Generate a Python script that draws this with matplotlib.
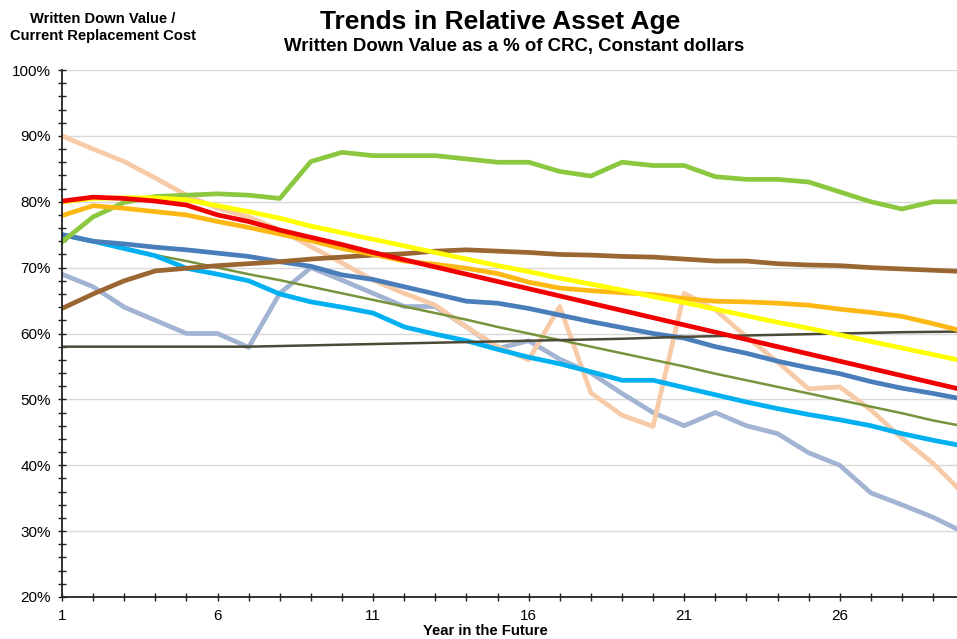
import numpy as np
import matplotlib.pyplot as plt
from matplotlib.ticker import MultipleLocator

plt.rcParams['font.family'] = ['Liberation Sans', 'DejaVu Sans']

years = np.arange(1, 31)

# written down value as % of CRC, one list per asset class
green = [73.9, 77.7, 79.9, 80.8, 81.0, 81.2, 81.0, 80.5, 86.1, 87.5, 87.0, 87.0, 87.0, 86.5, 86.0,
         86.0, 84.6, 83.9, 86.0, 85.5, 85.5, 83.8, 83.4, 83.4, 83.0, 81.5, 80.0, 78.9, 80.0, 80.0]
peach = [90.0, 88.0, 86.1, 83.6, 81.0, 79.0, 77.7, 75.7, 73.2, 70.7, 68.1, 66.1, 64.3, 61.0, 58.0,
         56.0, 64.1, 51.0, 47.6, 45.9, 66.1, 63.6, 59.5, 55.7, 51.6, 51.9, 48.4, 44.1, 40.3, 35.6]
red = [80.1, 80.7, 80.5, 80.1, 79.5, 78.0, 77.0, 75.7, 74.6, 73.5, 72.3, 71.2, 70.1, 69.0, 67.9,
       66.8, 65.7, 64.6, 63.5, 62.4, 61.3, 60.2, 59.1, 58.0, 56.9, 55.8, 54.7, 53.6, 52.5, 51.4]
yellow = [80.0, 80.5, 80.6, 80.6, 80.3, 79.4, 78.5, 77.5, 76.3, 75.3, 74.3, 73.3, 72.3, 71.3, 70.3,
          69.4, 68.4, 67.5, 66.6, 65.6, 64.7, 63.7, 62.7, 61.7, 60.8, 59.8, 58.8, 57.8, 56.8, 55.8]
orange = [77.9, 79.4, 79.0, 78.5, 78.0, 77.0, 76.1, 75.1, 74.1, 72.9, 72.0, 71.0, 70.5, 69.9, 69.1,
          67.8, 66.9, 66.5, 66.2, 65.9, 65.3, 64.9, 64.8, 64.6, 64.3, 63.7, 63.2, 62.6, 61.5, 60.3]
brown = [63.8, 66.0, 68.0, 69.5, 69.9, 70.3, 70.6, 70.9, 71.3, 71.6, 71.9, 72.1, 72.5, 72.7, 72.5,
         72.3, 72.0, 71.9, 71.7, 71.6, 71.3, 71.0, 71.0, 70.6, 70.4, 70.3, 70.0, 69.8, 69.6, 69.4]
blue = [75.0, 74.0, 73.6, 73.1, 72.7, 72.2, 71.7, 70.9, 70.2, 68.9, 68.2, 67.1, 66.0, 64.9, 64.6,
        63.8, 62.8, 61.8, 60.9, 60.0, 59.3, 58.0, 57.0, 55.8, 54.8, 53.9, 52.7, 51.7, 50.9, 50.0]
cyan = [75.0, 74.0, 72.9, 71.8, 69.9, 69.0, 68.0, 66.0, 64.8, 64.0, 63.1, 61.0, 59.9, 58.9, 57.6,
        56.4, 55.4, 54.2, 52.9, 52.9, 51.8, 50.7, 49.6, 48.6, 47.7, 46.9, 46.0, 44.8, 43.8, 42.9]
olive = [75.0, 74.0, 73.0, 71.9, 71.0, 70.0, 69.0, 68.1, 67.1, 66.1, 65.1, 64.1, 63.1, 62.1, 61.0,
         60.0, 59.0, 58.0, 57.0, 56.0, 55.0, 53.9, 52.9, 51.9, 50.9, 49.9, 48.9, 47.9, 46.8, 45.9]
greyblue = [69.0, 67.1, 64.0, 62.0, 60.0, 60.0, 57.9, 66.1, 70.0, 68.1, 66.1, 64.1, 64.1, 61.0, 57.7,
            58.9, 56.1, 54.0, 50.9, 48.0, 46.0, 48.0, 46.0, 44.8, 41.9, 40.0, 35.8, 34.0, 32.1, 29.8]
dark = [58.0, 58.0, 58.0, 58.0, 58.0, 58.0, 58.0, 58.1, 58.2, 58.3, 58.4, 58.5, 58.6, 58.7, 58.8,
        58.9, 59.0, 59.1, 59.2, 59.35, 59.5, 59.6, 59.7, 59.8, 59.9, 60.0, 60.1, 60.2, 60.25, 60.3]

fig = plt.figure(figsize=(9.57, 6.39), dpi=100)
ax = fig.add_axes([62 / 957, 1 - 597 / 639, 895 / 957, 527 / 639])

lines = [
    (greyblue, '#A3B4D2', 3.4),
    (peach, '#F8CBA8', 3.4),
    (olive, '#77933C', 1.8),
    (cyan, '#00B0F0', 3.4),
    (blue, '#4A7EBB', 3.4),
    (dark, '#4A4A36', 1.8),
    (brown, '#9A6631', 3.4),
    (green, '#8CC83F', 3.4),
    (orange, '#FDB813', 3.4),
    (yellow, '#FFFF00', 3.4),
    (red, '#F00000', 3.4),
]
for vals, color, lw in lines:
    ax.plot(years, vals, color=color, lw=lw)

ax.set_xlim(1, 29.77)
ax.set_ylim(20, 100)

ax.set_yticks(range(20, 101, 10))
ax.set_yticklabels([f'{v}%' for v in range(20, 101, 10)])
ax.yaxis.set_minor_locator(MultipleLocator(2))
ax.set_xticks(years[:29])
ax.set_xticklabels([str(y) if (y - 1) % 5 == 0 else '' for y in years[:29]])

ax.grid(axis='y', color='#D9D9D9', lw=1)
ax.set_axisbelow(True)
for s in ['top', 'right']:
    ax.spines[s].set_visible(False)
for s in ['left', 'bottom']:
    ax.spines[s].set_color('#222222')
    ax.spines[s].set_linewidth(1.3)

ax.tick_params(which='both', direction='inout', length=6, width=1, color='#222222')
ax.tick_params(axis='y', labelsize=11, pad=5)
ax.tick_params(axis='x', labelsize=11, pad=6)

fig.text(0.5225, 0.966, 'Trends in Relative Asset Age', ha='center', va='center',
         fontsize=19, fontweight='bold')
fig.text(0.537, 0.927, 'Written Down Value as a % of CRC, Constant dollars', ha='center',
         va='center', fontsize=13.4, fontweight='bold')
fig.text(0.1076, 0.957, 'Written Down Value /\nCurrent Replacement Cost', ha='center',
         va='center', fontsize=10.6, fontweight='bold', linespacing=1.25)
fig.text(0.507, 0.0125, 'Year in the Future', ha='center', va='center',
         fontsize=10.7, fontweight='bold')

fig.savefig('out.png', dpi=100)
